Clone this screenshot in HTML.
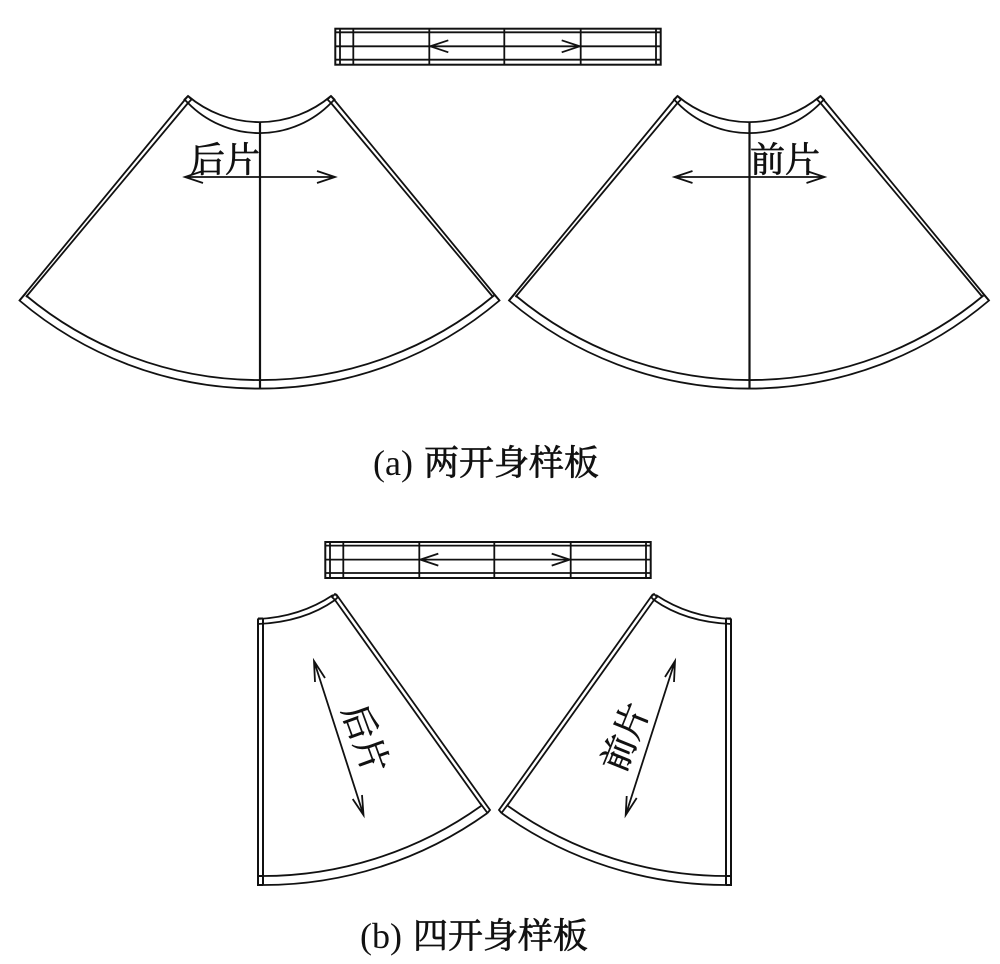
<!DOCTYPE html>
<html><head><meta charset="utf-8"><style>
html,body{margin:0;padding:0;background:#fff}
svg{display:block}
.l{fill:none;stroke:#111;stroke-width:1.8}
.t{font-family:"Liberation Serif","Noto Serif CJK SC",serif;fill:#111}
.c{font-family:"Noto Serif CJK SC",serif;stroke:#111;stroke-width:.7}
</style></head><body>
<svg width="1000" height="964" viewBox="0 0 1000 964">
<defs>
<g id="fan" class="l">
<path d="M188,96 L19.5,300.5 A371,371 0 0 0 499.5,300.5 L331,96"/>
<path d="M188,96 A111,111 0 0 0 331,96"/>
<path d="M188,103 A100,100 0 0 0 331,103"/>
<path d="M188,96 L191.5,99.5 L188,103 L184.5,99.5 Z M331,96 L327.5,99.5 L331,103 L334.5,99.5 Z"/>
<path d="M188,103 L26,297 M331,103 L493,297"/>
<path d="M26,295.5 A366,366 0 0 0 494,295.5"/>
<path d="M19.5,300.5 L26,293 M499.5,300.5 L493,293"/>
<path d="M260,122 V389" stroke-width="2.2"/>
<path d="M185,177 H335 M203,171 L185,177 L203,183 M317,171 L335,177 L317,183"/>
</g>
<g id="band" class="l">
<rect x="0" y="0" width="325.4" height="36" stroke-width="2"/>
<path d="M0,3.6 H325.4 M0,17.6 H325.4 M0,31 H325.4"/>
<path d="M4.7,0 V36 M18,0 V36 M94,0 V36 M169,0 V36 M245.4,0 V36 M320.7,0 V36"/>
<path d="M113,11.6 L95,17.6 L113,23.6 M226.4,11.6 L244.4,17.6 L226.4,23.6"/>
</g>
<g id="piece" class="l">
<path d="M258,618.5 V885 H263 M263,618.5 V885 M258,618.5 H263 M258,876 H263" stroke-width="2"/>
<path d="M258,619 Q300,617 333,595"/>
<path d="M258,624 Q304,622 335,600"/>
<path d="M335,594 L338,597 L335,600 L332,597 Z"/>
<path d="M336,594 L490,810 L487.5,813"/>
<path d="M335,600 L482,806"/>
<path d="M480,803 L487.5,813"/>
<path d="M262,885 A384,384 0 0 0 487.5,813"/>
<path d="M258,876 A377,377 0 0 0 481,806"/>
</g>
</defs>
<use href="#band" x="335.3" y="28.7"/>
<use href="#fan"/>
<use href="#fan" x="489.5"/>
<text class="t c" x="190" y="172" font-size="35">后片</text>
<text class="t c" x="750" y="172" font-size="35">前片</text>
<text class="t" x="373" y="475" font-size="36">(a)<tspan class="c" x="424" font-size="35">两开身样板</tspan></text>
<use href="#band" x="325.3" y="542"/>
<use href="#piece"/>
<use href="#piece" transform="translate(989,0) scale(-1,1)"/>
<g class="l">
<path d="M314,661 L363.5,815 M315,682 L314,661 L325,678 M352.7,799 L363.5,815 L362,795"/>
<path d="M675,661 L625.7,815 M665,677 L675,661 L674,682 M626.7,796 L625.7,815 L636.7,798"/>
</g>
<text class="t c" font-size="35" text-anchor="middle" transform="translate(354,743) rotate(70)">后片</text>
<text class="t c" font-size="35" text-anchor="middle" transform="translate(636.7,741.7) rotate(-68)">前片</text>
<text class="t" x="360" y="948" font-size="36">(b)<tspan class="c" x="413" font-size="35">四开身样板</tspan></text>
</svg>
</body></html>
